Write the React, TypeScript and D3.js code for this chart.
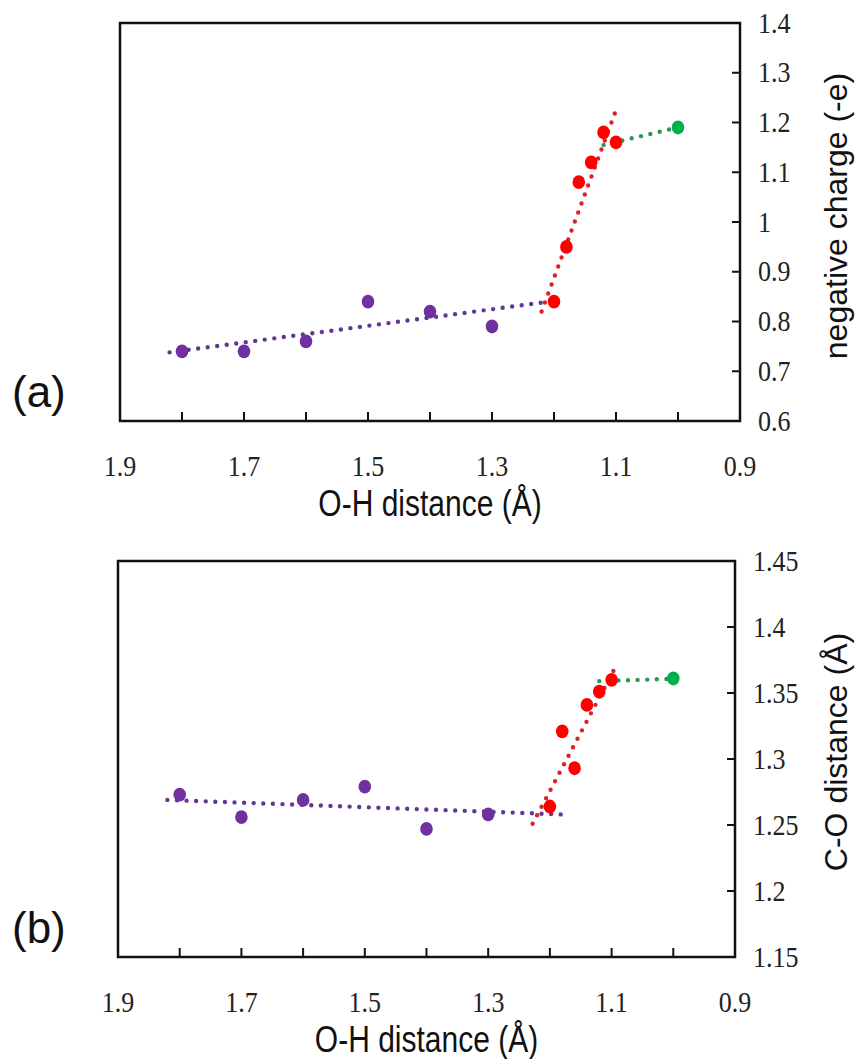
import React from 'react';
import * as d3 from 'd3';

// ---------- shared x axis ----------
const xLabelValues = [1.9, 1.7, 1.5, 1.3, 1.1, 0.9];
const xTickValues = [1.8, 1.7, 1.6, 1.5, 1.4, 1.3, 1.2, 1.1, 1.0];

// ---------- O-H distance categories ----------
const purpleX = [1.8, 1.7, 1.6, 1.5, 1.4, 1.3];
const redX = [1.2, 1.18, 1.16, 1.14, 1.12, 1.1];
const greenX = [1.0];

// ---------- panel (a): negative charge ----------
const chargePurple = [0.74, 0.74, 0.76, 0.84, 0.82, 0.79];
const chargeRed = [0.84, 0.95, 1.08, 1.12, 1.18, 1.16];
const chargeGreen = [1.19];
const chargeTicks = [1.4, 1.3, 1.2, 1.1, 1, 0.9, 0.8, 0.7, 0.6];
const chargeTrendPurpleX = [1.82, 1.22];
const chargeTrendPurpleY = [0.738, 0.838];
const chargeTrendRedX = [1.22, 1.1];
const chargeTrendRedY = [0.82, 1.225];
const chargeTrendGreenX = [1.12, 1.0];
const chargeTrendGreenY = [1.155, 1.19];

// ---------- panel (b): C-O distance ----------
const coPurple = [1.273, 1.256, 1.269, 1.279, 1.247, 1.258];
const coRed = [1.264, 1.321, 1.293, 1.341, 1.351, 1.36];
const coGreen = [1.361];
const coTicks = [1.45, 1.4, 1.35, 1.3, 1.25, 1.2, 1.15];
const coTrendPurpleX = [1.82, 1.18];
const coTrendPurpleY = [1.269, 1.258];
const coTrendRedX = [1.228, 1.09];
const coTrendRedY = [1.251, 1.373];
const coTrendGreenX = [1.12, 0.985];
const coTrendGreenY = [1.359, 1.361];

const C = {
  purple: '#7030A0',
  purpleLine: '#5F3A90',
  red: '#FF0000',
  redLine: '#D8232A',
  green: '#00B050',
  greenLine: '#27985A',
};

type Series = { xs: number[]; ys: number[]; color: string };
type Trend = { xs: number[]; ys: number[]; color: string };

type PanelProps = {
  left: number;
  right: number;
  top: number;
  bottom: number;
  yDomain: [number, number];
  yTicks: number[];
  yTitle: string;
  yTitleCenter: number;
  tag: string;
  series: Series[];
  trends: Trend[];
};

const serif = '"Liberation Serif", "Times New Roman", serif';
const sans = '"Liberation Sans", Arial, sans-serif';

function Panel(p: PanelProps) {
  const x = d3.scaleLinear().domain([1.9, 0.9]).range([p.left, p.right]);
  const y = d3.scaleLinear().domain(p.yDomain).range([p.bottom, p.top]);
  const line = d3
    .line<[number, number]>()
    .x((d) => x(d[0]))
    .y((d) => y(d[1]));
  const yMin = p.yDomain[0];
  const yMax = p.yDomain[1];
  const eps = 1e-9;
  return (
    <g>
      {/* trend lines */}
      {p.trends.map((t, i) => (
        <path
          key={'t' + i}
          d={line(t.xs.map((v, j) => [v, t.ys[j]] as [number, number])) || ''}
          fill="none"
          stroke={t.color}
          strokeWidth={4.4}
          strokeDasharray="0 9.6"
          strokeLinecap="round"
        />
      ))}
      {/* markers */}
      {p.series.map((s, i) =>
        s.xs.map((v, j) => (
          <ellipse
            key={'m' + i + '-' + j}
            cx={x(v)}
            cy={y(s.ys[j])}
            rx={6.3}
            ry={6.9}
            fill={s.color}
          />
        ))
      )}
      {/* frame */}
      <rect
        x={p.left}
        y={p.top}
        width={p.right - p.left}
        height={p.bottom - p.top}
        fill="none"
        stroke="#111"
        strokeWidth={2.5}
      />
      {/* x ticks */}
      {xTickValues.map((v) => (
        <line
          key={'xt' + v}
          x1={x(v)}
          x2={x(v)}
          y1={p.bottom}
          y2={p.bottom - 9}
          stroke="#111"
          strokeWidth={2}
        />
      ))}
      {xLabelValues.map((v) => (
        <text
          key={'xl' + v}
          transform={`translate(${x(v)},${p.bottom + 55}) scale(1,1.12)`}
          textAnchor="middle"
          fontFamily={serif}
          fontSize={26}
          fill="#222"
        >
          {v.toFixed(1)}
        </text>
      ))}
      {/* y ticks (right side) */}
      {p.yTicks
        .filter((v) => v > yMin + eps && v < yMax - eps)
        .map((v) => (
          <line
            key={'yt' + v}
            x1={p.right}
            x2={p.right - 8}
            y1={y(v)}
            y2={y(v)}
            stroke="#111"
            strokeWidth={2}
          />
        ))}
      {p.yTicks.map((v) => (
        <text
          key={'yl' + v}
          transform={`translate(${p.right + 18},${y(v) + 9.5}) scale(1,1.12)`}
          textAnchor="start"
          fontFamily={serif}
          fontSize={26}
          fill="#222"
        >
          {String(v)}
        </text>
      ))}
      {/* x title */}
      <text
        transform={`translate(${(p.left + p.right) / 2},${p.bottom + 95}) scale(1,1.2)`}
        textAnchor="middle"
        fontFamily={sans}
        fontSize={30}
        fill="#111"
      >
        O-H distance (Å)
      </text>
      {/* y title */}
      <text
        transform={`translate(847,${p.yTitleCenter}) rotate(-90)`}
        textAnchor="middle"
        fontFamily={sans}
        fontSize={32}
        fill="#111"
      >
        {p.yTitle}
      </text>
      {/* panel tag */}
      <text
        transform={`translate(12,${p.bottom - 14})`}
        fontFamily={sans}
        fontSize={44}
        fill="#111"
      >
        {p.tag}
      </text>
    </g>
  );
}

export default function App() {
  return (
    <svg
      width={861}
      height={1059}
      style={{ position: 'absolute', left: 0, top: 0, background: '#fff' }}
    >
      <rect x={0} y={0} width={861} height={1059} fill="#fff" />
      <Panel
        left={120}
        right={740}
        top={23}
        bottom={421}
        yDomain={[0.6, 1.4]}
        yTicks={chargeTicks}
        yTitle="negative charge (-e)"
        yTitleCenter={216}
        tag="(a)"
        series={[
          { xs: purpleX, ys: chargePurple, color: C.purple },
          { xs: redX, ys: chargeRed, color: C.red },
          { xs: greenX, ys: chargeGreen, color: C.green },
        ]}
        trends={[
          { xs: chargeTrendPurpleX, ys: chargeTrendPurpleY, color: C.purpleLine },
          { xs: chargeTrendRedX, ys: chargeTrendRedY, color: C.redLine },
          { xs: chargeTrendGreenX, ys: chargeTrendGreenY, color: C.greenLine },
        ]}
      />
      <Panel
        left={118}
        right={735}
        top={561}
        bottom={957}
        yDomain={[1.15, 1.45]}
        yTicks={coTicks}
        yTitle="C-O distance (Å)"
        yTitleCenter={752}
        tag="(b)"
        series={[
          { xs: purpleX, ys: coPurple, color: C.purple },
          { xs: redX, ys: coRed, color: C.red },
          { xs: greenX, ys: coGreen, color: C.green },
        ]}
        trends={[
          { xs: coTrendPurpleX, ys: coTrendPurpleY, color: C.purpleLine },
          { xs: coTrendRedX, ys: coTrendRedY, color: C.redLine },
          { xs: coTrendGreenX, ys: coTrendGreenY, color: C.greenLine },
        ]}
      />
    </svg>
  );
}
